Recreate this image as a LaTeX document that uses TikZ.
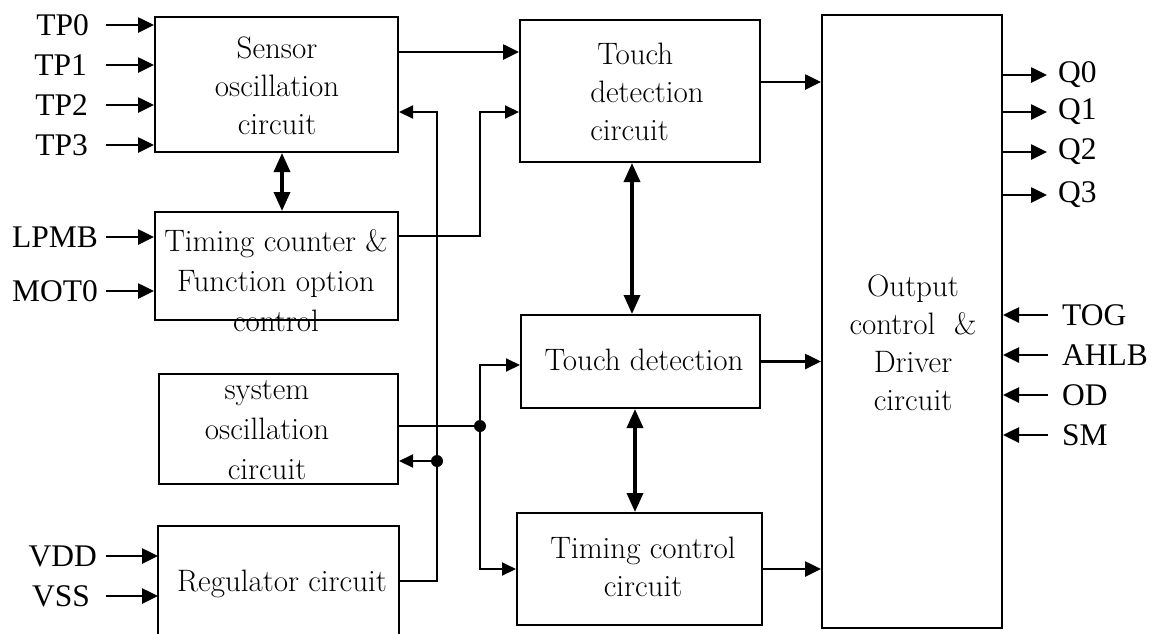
\documentclass[tikz,border=0pt]{standalone}
\usepackage{fontspec}
\newfontfamily\lblfont{Liberation Serif}
\usetikzlibrary{arrows.meta}
\begin{document}
\begin{tikzpicture}[x=1pt,y=-1pt,
  box/.style={draw,line width=2pt,inner sep=0pt},
  arr/.style={line width=2.6pt,-{Triangle[length=16pt,width=15pt]}},
  tarr/.style={line width=2pt,-{Triangle[length=14pt,width=13pt]}},
  darr/.style={line width=3.5pt,{Triangle[length=19pt,width=16pt]}-{Triangle[length=19pt,width=16pt]}},
  wire/.style={line width=1.8pt},
  lbl/.style={font=\lblfont\fontsize{31.5}{36}\selectfont,inner sep=0pt},
  txt/.style={font=\fontsize{31}{38}\selectfont,align=center,inner sep=0pt},
  dot/.style={circle,fill,inner sep=0pt,minimum size=12pt}]
\useasboundingbox (0,0) rectangle (1152,633);
\fill[white] (0,0) rectangle (1152,633);

% boxes
\node[box,minimum width=243pt,minimum height=135pt] (sens) at (276.5,84.5) {};
\node[box,minimum width=243pt,minimum height=108pt] (tcnt) at (276.5,266) {};
\node[box,minimum width=239pt,minimum height=110pt] (sysosc) at (278.5,429) {};
\node[box,draw=none,minimum width=239pt,minimum height=113pt] (reg) at (278.5,583.5) {};
\draw[line width=2pt] (reg.south west) |- (reg.north east) -- (reg.south east);
\node[box,minimum width=240pt,minimum height=142pt] (tdc) at (640,91) {};
\node[box,minimum width=239pt,minimum height=93pt] (td) at (640.5,361.5) {};
\node[box,minimum width=245pt,minimum height=112pt] (tctl) at (639.5,569) {};
\node[box,minimum width=180pt,minimum height=613pt] (out) at (912,321.5) {};

% box texts
\node[txt] (sensT) at (277,86) {Sensor\\oscillation\\circuit};
\node[txt,font=\fontsize{31}{40}\selectfont] (tcntT) at (276,281) {Timing counter \&\\Function option\\control};
\node[txt,font=\fontsize{31}{40}\selectfont] (sysT) at (267,430) {system\\oscillation\\circuit};
\node[txt] (regT) at (282,584) {Regulator circuit};
\node[txt,align=left] (tdcT) at (647,92) {\hspace*{7pt}Touch\\detection\\circuit};
\node[txt] (tdT) at (644,360) {Touch detection};
\node[txt] (tctlT) at (643,567) {Timing control\\circuit};
\node[txt] (outT) at (913,343) {Output\\control \ \&\\Driver\\circuit};

% helper coordinates
\coordinate (inx) at (106,0);
\coordinate (outx) at (1047,0);
\coordinate (inx2) at (1048,0);
\coordinate (jx) at (480,0);
\coordinate (fx) at (437,0);

% left inputs
\node[lbl,anchor=east] (tp0) at (89,25) {TP0};
\node[lbl,anchor=east] (tp1) at (87,65) {TP1};
\node[lbl,anchor=east] (tp2) at (88,105) {TP2};
\node[lbl,anchor=east] (tp3) at (88,145) {TP3};
\node[lbl,anchor=east] (lpmb) at (98,237) {LPMB};
\node[lbl,anchor=east] (mot0) at (98,291) {MOT0};
\node[lbl,anchor=east] (vdd) at (97,556) {VDD};
\node[lbl,anchor=east] (vss) at (90,596) {VSS};
\foreach \n in {tp0,tp1,tp2,tp3}
  \draw[arr] (\n.east -| inx) -- (\n.east -| sens.west);
\foreach \n in {lpmb,mot0}
  \draw[arr] (\n.east -| inx) -- (\n.east -| tcnt.west);
\foreach \n in {vdd,vss}
  \draw[arr] (\n.east -| inx) -- (\n.east -| reg.west);

% right outputs
\node[lbl,anchor=west] (q0) at (1058,75) {Q0};
\node[lbl,anchor=west] (q1) at (1058,112) {Q1};
\node[lbl,anchor=west] (q2) at (1058,152) {Q2};
\node[lbl,anchor=west] (q3) at (1058,195) {Q3};
\foreach \n in {q0,q1,q2,q3}
  \draw[arr] (\n.west -| out.east) -- (\n.west -| outx);
\node[lbl,anchor=west] (tog) at (1062,315) {TOG};
\node[lbl,anchor=west] (ahlb) at (1062,355) {AHLB};
\node[lbl,anchor=west] (od) at (1062,395) {OD};
\node[lbl,anchor=west] (sm) at (1062,435) {SM};
\foreach \n in {tog,ahlb,od,sm}
  \draw[arr] (\n.west -| inx2) -- (\n.west -| out.east);

% internal connections
\path ([yshift=-36pt]sens.north east) coordinate (s1);
\draw[arr] (s1) -- (s1 -| tdc.west);
\path ([yshift=-63pt]tdc.north east) coordinate (t1);
\draw[arr] (t1) -- (t1 -| out.west);
\draw[arr] (td.east) -- (td.east -| out.west);
\draw[arr] (tctl.east) -- (tctl.east -| out.west);

\draw[darr] ([xshift=5.5pt]sens.south) -- ([xshift=5.5pt]tcnt.north);
\draw[darr] ([xshift=-8pt]tdc.south) -- ([xshift=-8pt]tdc.south |- td.north);
\draw[darr] ([xshift=-5.5pt]td.south) -- ([xshift=-5.5pt]td.south |- tctl.north);

\path ([yshift=-25pt]tcnt.north east) coordinate (c1);
\path ([yshift=-93pt]tdc.north west) coordinate (t2);
\draw[tarr] (c1) -- (c1 -| jx) |- (t2);

\path ([yshift=-55pt]reg.north east) coordinate (r1);
\path ([yshift=-96pt]sens.north east) coordinate (s2);
\draw[tarr] (r1) -- (r1 -| fx) |- (s2);
\path ([yshift=-88pt]sysosc.north east) coordinate (o2);
\node[dot] (d1) at (o2 -| fx) {};
\draw[tarr] (d1.center) -- (o2);

\path ([yshift=-53pt]sysosc.north east) coordinate (o1);
\node[dot] (d2) at (o1 -| jx) {};
\draw[wire] (o1) -- (d2.center);
\path ([yshift=-51pt]td.north west) coordinate (t3);
\draw[tarr] (d2.center) |- (t3);
\draw[tarr] (d2.center) |- (tctl.west);
\end{tikzpicture}
\end{document}
